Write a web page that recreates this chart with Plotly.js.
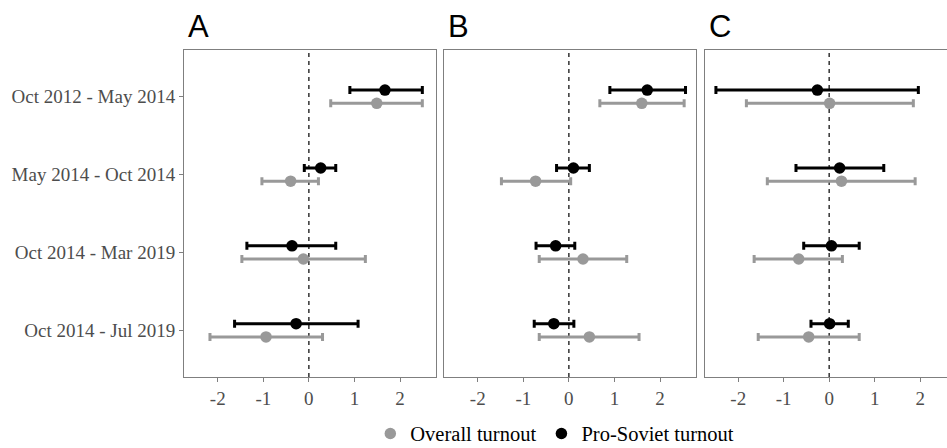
<!DOCTYPE html>
<html>
<head>
<meta charset="utf-8">
<script src="https://cdn.plot.ly/plotly-3.0.1.min.js"></script>
<style>html,body{margin:0;padding:0;background:#fff;}#chart{width:947px;height:448px;}</style>
</head>
<body>
<div id="chart"></div>
<script>
// ---- data ----
const periods = ["Oct 2012 - May 2014", "May 2014 - Oct 2014", "Oct 2014 - Mar 2019", "Oct 2014 - Jul 2019"];
const panelLabels = ["A", "B", "C"];
const seriesNames = ["Overall turnout", "Pro-Soviet turnout"];

// Panel A
const overallA_est = [1.49, -0.40, -0.12, -0.94];
const overallA_lo  = [0.48, -1.03, -1.47, -2.17];
const overallA_hi  = [2.49, 0.21, 1.24, 0.30];
const sovietA_est  = [1.67, 0.26, -0.37, -0.28];
const sovietA_lo   = [0.90, -0.10, -1.36, -1.63];
const sovietA_hi   = [2.49, 0.59, 0.59, 1.08];
// Panel B
const overallB_est = [1.60, -0.73, 0.31, 0.45];
const overallB_lo  = [0.68, -1.48, -0.65, -0.65];
const overallB_hi  = [2.53, 0.04, 1.27, 1.54];
const sovietB_est  = [1.72, 0.10, -0.29, -0.33];
const sovietB_lo   = [0.90, -0.27, -0.72, -0.76];
const sovietB_hi   = [2.56, 0.45, 0.13, 0.11];
// Panel C
const overallC_est = [0.01, 0.27, -0.67, -0.45];
const overallC_lo  = [-1.82, -1.36, -1.65, -1.56];
const overallC_hi  = [1.85, 1.89, 0.29, 0.66];
const sovietC_est  = [-0.26, 0.23, 0.05, 0.01];
const sovietC_lo   = [-2.49, -0.73, -0.56, -0.40];
const sovietC_hi   = [1.96, 1.20, 0.66, 0.42];

const xTicks = [-2, -1, 0, 1, 2];
const xTickLabels = ["-2", "-1", "0", "1", "2"];

// ---- styling ----
const GREY = "#999999";
const BLACK = "#000000";
const DODGE = 0.085;
const SERIF = "Liberation Serif, Times New Roman, serif";
const SANS = "Liberation Sans, Arial, sans-serif";

const yBase = periods.map((p, i) => periods.length - i);

const panels = [
  {est: [overallA_est, sovietA_est], lo: [overallA_lo, sovietA_lo], hi: [overallA_hi, sovietA_hi]},
  {est: [overallB_est, sovietB_est], lo: [overallB_lo, sovietB_lo], hi: [overallB_hi, sovietB_hi]},
  {est: [overallC_est, sovietC_est], lo: [overallC_lo, sovietC_lo], hi: [overallC_hi, sovietC_hi]}
];
const colors = [GREY, BLACK];
const offsets = [-DODGE, DODGE];

const traces = [];
panels.forEach((pn, pi) => {
  [0, 1].forEach(si => {
    const est = pn.est[si], lo = pn.lo[si], hi = pn.hi[si];
    traces.push({
      type: "scatter", mode: "markers",
      name: seriesNames[si],
      legendgroup: seriesNames[si],
      showlegend: pi === 0,
      x: est,
      y: yBase.map(v => v + offsets[si]),
      xaxis: pi === 0 ? "x" : "x" + (pi + 1),
      yaxis: pi === 0 ? "y" : "y" + (pi + 1),
      marker: {color: colors[si], size: 11.5},
      error_x: {
        type: "data", symmetric: false,
        array: hi.map((h, k) => h - est[k]),
        arrayminus: lo.map((l, k) => est[k] - l),
        color: colors[si], thickness: 3, width: 4
      },
      hoverinfo: "x+name"
    });
  });
});

const W = 947, L = 184;
const pw = W - L;
const dom = [[0, 252 / pw], [260 / pw, 512 / pw], [521 / pw, 1]];
const ranges = [[-2.74, 2.79], [-2.74, 2.79], [-2.73, 2.59]];

const layout = {
  width: 947, height: 448,
  margin: {l: L, r: 0, t: 50, b: 71, pad: 0, autoexpand: false},
  paper_bgcolor: "#ffffff", plot_bgcolor: "#ffffff",
  showlegend: true,
  legend: {
    orientation: "h", x: 0.486, xanchor: "center",
    yref: "container", y: 0.032, yanchor: "middle",
    font: {family: SERIF, size: 20.5, color: "#000000"},
    itemwidth: 30, traceorder: "normal", bgcolor: "rgba(0,0,0,0)"
  },
  shapes: [],
  annotations: []
};

[0, 1, 2].forEach(pi => {
  const xk = pi === 0 ? "xaxis" : "xaxis" + (pi + 1);
  const yk = pi === 0 ? "yaxis" : "yaxis" + (pi + 1);
  const xr = pi === 0 ? "x" : "x" + (pi + 1);
  const yr = pi === 0 ? "y" : "y" + (pi + 1);
  layout[xk] = {
    domain: dom[pi], range: ranges[pi], anchor: yr,
    tickmode: "array", tickvals: xTicks, ticktext: xTickLabels,
    ticks: "outside", ticklen: 4, tickwidth: 1, tickcolor: "#7f7f7f",
    tickfont: {family: SERIF, size: 19, color: "#4d4d4d"},
    showgrid: false, zeroline: false,
    showline: true, mirror: true, linecolor: "#7f7f7f", linewidth: 1,
    fixedrange: true
  };
  layout[yk] = {
    domain: [0, 1], range: [0.4, 4.6], anchor: xr,
    tickmode: "array", tickvals: yBase, ticktext: periods,
    showticklabels: pi === 0,
    ticks: pi === 0 ? "outside" : "", ticklen: 4, tickwidth: 1, tickcolor: "#7f7f7f",
    tickfont: {family: SERIF, size: 19, color: "#4d4d4d"},
    showgrid: false, zeroline: false,
    showline: true, mirror: pi !== 2, linecolor: "#7f7f7f", linewidth: 1,
    fixedrange: true
  };
  layout.shapes.push({
    type: "line", xref: xr, yref: yr + " domain", x0: 0, x1: 0, y0: 0, y1: 1,
    line: {color: "#333333", width: 1.5, dash: "4px,4px"}, layer: "below"
  });
  layout.annotations.push({
    text: panelLabels[pi], xref: xr + " domain", yref: "paper",
    x: 0, y: 1, xanchor: "left", yanchor: "bottom", xshift: 2, yshift: 4,
    showarrow: false, font: {family: SANS, size: 31, color: "#000000"}
  });
});

Plotly.newPlot("chart", traces, layout, {staticPlot: true, displayModeBar: false});
</script>
</body>
</html>
